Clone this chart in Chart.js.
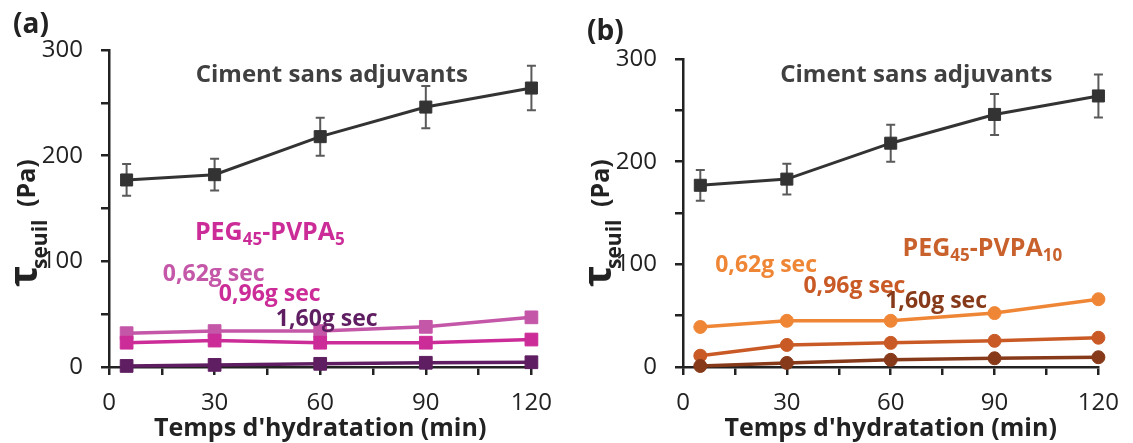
<!DOCTYPE html>
<html>
<head>
<meta charset="utf-8">
<script src="https://cdn.jsdelivr.net/npm/chart.js@4/dist/chart.umd.min.js"></script>
<style>
  html, body { margin: 0; padding: 0; background: #fff; }
  #wrap { position: relative; width: 1133px; height: 443px; overflow: hidden; }
  canvas { position: absolute; top: 0; }
  #chartA { left: 0; }
  #chartB { left: 566px; }
</style>
</head>
<body>
<div id="wrap">
  <canvas id="chartA" width="566" height="443"></canvas>
  <canvas id="chartB" width="567" height="443"></canvas>
</div>
<script>
// temps d'hydratation (min)
const minutes = [5, 30, 60, 90, 120];

// ciment sans adjuvants (meme serie sur les deux graphes)
const cimentA = [177, 182, 218, 246, 264];
const cimentB = [177, 183, 218, 246, 264];
const cimentErr = [15, 15, 18, 20, 21];

// (a) PEG45-PVPA5
const pva5_062 = [32, 34, 34, 38, 47];
const pva5_096 = [23, 25, 23, 23, 26];
const pva5_160 = [1, 2, 3, 4, 4.5];

// (b) PEG45-PVPA10
const pva10_062 = [39, 45, 45, 52.5, 66];
const pva10_096 = [11, 21.5, 23.5, 25.5, 28.5];
const pva10_160 = [1, 4, 7, 8.5, 9.5];

const xTicks = [0, 30, 60, 90, 120];
const yTicks = [0, 100, 200, 300];
const xTitle = "Temps d'hydratation (min)";
const dosesLabels = ['0,62g sec', '0,96g sec', '1,60g sec'];

const FONT = "'Open Sans', 'DejaVu Sans', sans-serif";
const AXIS = '#222222';

const pts = (vals) => minutes.map((m, i) => ({ x: m, y: vals[i] }));

// draws a run of text pieces one after the other (for subscripts)
function drawRich(ctx, x, y, parts, color) {
    ctx.fillStyle = color;
    ctx.textBaseline = 'alphabetic';
    ctx.textAlign = 'left';
    let cx = x;
    parts.forEach(p => {
        ctx.font = 'bold ' + p.size + 'px ' + FONT;
        ctx.fillText(p.t, cx, y + (p.dy || 0));
        cx += ctx.measureText(p.t).width;
    });
}

const errorBars = {
    id: 'errorBars',
    beforeDatasetsDraw(chart) {
        const { ctx, scales: { x, y } } = chart;
        const vals = chart.options.plugins.errorBars.values;
        ctx.save();
        ctx.strokeStyle = '#5a5a5a';
        ctx.lineWidth = 2;
        minutes.forEach((m, i) => {
            const px = x.getPixelForValue(m);
            const top = y.getPixelForValue(vals[i] + cimentErr[i]);
            const bot = y.getPixelForValue(vals[i] - cimentErr[i]);
            ctx.beginPath();
            ctx.moveTo(px, top); ctx.lineTo(px, bot);
            ctx.moveTo(px - 4.5, top); ctx.lineTo(px + 4.5, top);
            ctx.moveTo(px - 4.5, bot); ctx.lineTo(px + 4.5, bot);
            ctx.stroke();
        });
        ctx.restore();
    }
};

const annotations = {
    id: 'annotations',
    afterDatasetsDraw(chart) {
        const { ctx, chartArea, scales: { x, y } } = chart;
        const o = chart.options.plugins.annotations;
        ctx.save();

        // panel letter
        ctx.font = 'bold 28px ' + FONT;
        ctx.fillStyle = '#222';
        ctx.textAlign = 'left';
        ctx.textBaseline = 'alphabetic';
        ctx.fillText(o.letter, chartArea.left - 96, o.letterY);

        // y title, rotated
        ctx.save();
        ctx.translate(chartArea.left - 72, chartArea.bottom - 80);
        ctx.rotate(-Math.PI / 2);
        drawRich(ctx, 0, 0, [{ t: '\u03C4', size: 40 }], '#222');
        drawRich(ctx, 18, 10, [{ t: 'seuil', size: 21 }], '#222');
        drawRich(ctx, 80, -2, [{ t: '(Pa)', size: 25 }], '#222');
        ctx.restore();

        // text labels placed in data coordinates
        o.items.forEach(it => {
            const px = x.getPixelForValue(it.x);
            const py = y.getPixelForValue(it.y);
            if (it.center) {
                ctx.font = 'bold ' + it.parts[0].size + 'px ' + FONT;
                const w = ctx.measureText(it.parts[0].t).width;
                drawRich(ctx, px - w / 2, py, it.parts, it.color);
            } else {
                drawRich(ctx, px, py, it.parts, it.color);
            }
        });
        ctx.restore();
    }
};

function makeChart(id, cfg) {
    const seriesDefaults = (color, style, radius) => ({
        borderColor: color,
        backgroundColor: color,
        pointBackgroundColor: color,
        pointBorderColor: color,
        pointStyle: style,
        pointRadius: radius,
        pointBorderWidth: 1,
        borderWidth: 3.5,
        tension: 0,
        clip: false
    });

    return new Chart(document.getElementById(id), {
        type: 'line',
        data: {
            datasets: [
                Object.assign({ label: dosesLabels[2], data: pts(cfg.s160) }, seriesDefaults(cfg.colors[2], cfg.style, cfg.radius)),
                Object.assign({ label: dosesLabels[1], data: pts(cfg.s096) }, seriesDefaults(cfg.colors[1], cfg.style, cfg.radius)),
                Object.assign({ label: dosesLabels[0], data: pts(cfg.s062) }, seriesDefaults(cfg.colors[0], cfg.style, cfg.radius)),
                Object.assign({ label: 'Ciment sans adjuvants', data: pts(cfg.ciment) },
                    seriesDefaults('#333333', 'rect', 8.5), { borderWidth: 3 })
            ]
        },
        options: {
            responsive: false,
            animation: false,
            devicePixelRatio: 1,
            layout: { padding: { left: 0, top: cfg.top, right: cfg.right, bottom: 0 } },
            plugins: {
                legend: { display: false },
                tooltip: { enabled: false },
                errorBars: { values: cfg.ciment },
                annotations: { letter: cfg.letter, letterY: cfg.letterY, items: cfg.items }
            },
            scales: {
                x: {
                    type: 'linear',
                    min: 0, max: 120,
                    afterFit: (s) => { s.height = 76; },
                    border: { display: true, color: AXIS, width: 2.5 },
                    grid: { drawOnChartArea: false, drawTicks: true, tickLength: 8, color: AXIS, lineWidth: 2.5 },
                    ticks: {
                        stepSize: 15, autoSkip: false, maxRotation: 0, padding: 14,
                        color: '#222', font: { family: FONT, size: 24 },
                        callback: (v) => xTicks.includes(v) ? v : ''
                    },
                    title: {
                        display: true, text: xTitle, color: '#222',
                        font: { family: FONT, size: 25, weight: 'bold', lineHeight: 1.1 },
                        padding: { top: 0, bottom: 0 }
                    }
                },
                y: {
                    min: 0, max: 300,
                    afterFit: (s) => { s.width = cfg.left; },
                    border: { display: true, color: AXIS, width: 2.5 },
                    grid: { drawOnChartArea: false, drawTicks: true, tickLength: 8, color: AXIS, lineWidth: 2.5 },
                    ticks: {
                        stepSize: 50, padding: 18,
                        color: '#222', font: { family: FONT, size: 24 },
                        callback: (v) => yTicks.includes(v) ? v : ''
                    }
                }
            }
        },
        plugins: [errorBars, annotations]
    });
}

const pinkA = ['#C457A8', '#CC2C97', '#5F1E61'];
const orangeB = ['#EF8636', '#C95A26', '#873A1A'];

makeChart('chartA', {
    letter: '(a)', letterY: 33,
    left: 109, right: 34, top: 50,
    style: 'rect', radius: 9,
    colors: pinkA,
    ciment: cimentA, s062: pva5_062, s096: pva5_096, s160: pva5_160,
    items: [
        { x: 63.3, y: 270, center: true, color: '#404040', parts: [{ t: 'Ciment sans adjuvants', size: 24 }] },
        { x: 24.4, y: 120, color: pinkA[1], parts: [{ t: 'PEG', size: 25 }, { t: '45', size: 17, dy: 5 }, { t: '-PVPA', size: 25 }, { t: '5', size: 17, dy: 5 }] },
        { x: 15.3, y: 81, color: pinkA[0], parts: [{ t: dosesLabels[0], size: 23 }] },
        { x: 31.2, y: 62, color: pinkA[1], parts: [{ t: dosesLabels[1], size: 23 }] },
        { x: 47.4, y: 39, color: pinkA[2], parts: [{ t: dosesLabels[2], size: 23 }] }
    ]
});

makeChart('chartB', {
    letter: '(b)', letterY: 40,
    left: 117, right: 26, top: 59,
    style: 'circle', radius: 6.5,
    colors: orangeB,
    ciment: cimentB, s062: pva10_062, s096: pva10_096, s160: pva10_160,
    items: [
        { x: 67.4, y: 278, center: true, color: '#404040', parts: [{ t: 'Ciment sans adjuvants', size: 24 }] },
        { x: 63.4, y: 108, color: '#C9612C', parts: [{ t: 'PEG', size: 25 }, { t: '45', size: 17, dy: 5 }, { t: '-PVPA', size: 25 }, { t: '10', size: 17, dy: 5 }] },
        { x: 9.3, y: 93, color: orangeB[0], parts: [{ t: dosesLabels[0], size: 23 }] },
        { x: 34.8, y: 72, color: orangeB[1], parts: [{ t: dosesLabels[1], size: 23 }] },
        { x: 58.4, y: 57, color: orangeB[2], parts: [{ t: dosesLabels[2], size: 23 }] }
    ]
});
</script>
</body>
</html>
